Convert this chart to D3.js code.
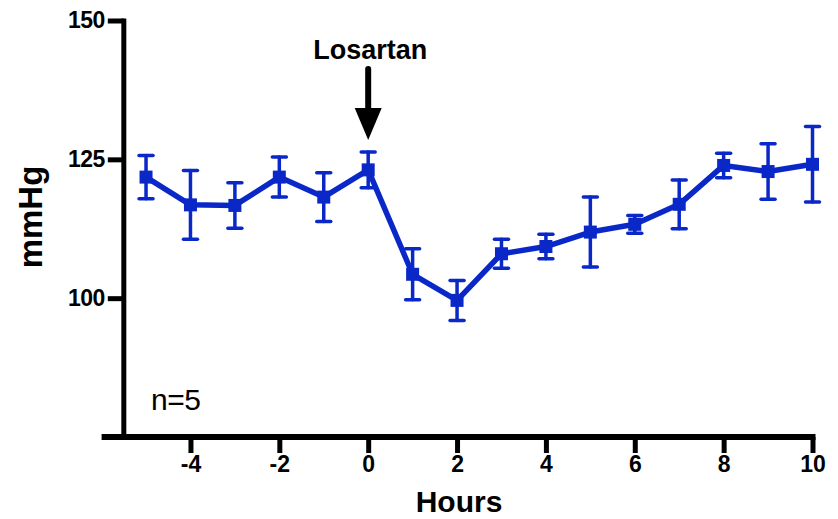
<!DOCTYPE html>
<html>
<head>
<meta charset="utf-8">
<script src="https://cdn.jsdelivr.net/npm/d3@7"></script>
<style>
  body { margin: 0; background: #fff; }
  svg { display: block; font-family: "Liberation Sans", Arial, sans-serif; }
  .tick text { font-family: "Liberation Sans Narrow", "Liberation Sans", Arial, sans-serif; }
</style>
</head>
<body>
<div id="chart"></div>
<script>
// hours relative to losartan dose
const hours = [-5, -4, -3, -2, -1, 0, 1, 2, 3, 4, 5, 6, 7, 8, 9, 10];
// mean pressure (mmHg) and SEM
const meanBP = [121.8, 116.8, 116.7, 121.8, 118.2, 123.1, 104.3, 99.6, 108.0, 109.3, 111.9, 113.3, 116.9, 123.9, 122.8, 124.1];
const sem = [3.9, 6.2, 4.1, 3.6, 4.4, 3.2, 4.6, 3.6, 2.6, 2.2, 6.3, 1.6, 4.4, 2.2, 5.0, 6.8];
const xTicks = [-4, -2, 0, 2, 4, 6, 8, 10];
const yTicks = [100, 125, 150];

const width = 838;
const height = 519;
const blue = "#0a28c8";

const data = hours.map((h, i) => ({ h, m: meanBP[i], e: sem[i] }));

const x = d3.scaleLinear().domain([-6, 10]).range([101.6, 812.5]);
const y = d3.scaleLinear().domain([75, 150]).range([437, 20.5]);

const svg = d3.select("#chart")
  .append("svg")
  .attr("width", width)
  .attr("height", height);

// x axis
const xAxis = svg.append("g")
  .attr("transform", `translate(0,${y(75)})`)
  .call(d3.axisBottom(x).tickValues(xTicks).tickFormat(d => String(d))
    .tickSize(16).tickSizeOuter(0).tickPadding(3));
xAxis.select(".domain").remove();
xAxis.append("line")
  .attr("x1", x(-6)).attr("x2", x(10) + 3)
  .attr("stroke", "#000").attr("stroke-width", 6);
xAxis.selectAll(".tick line").attr("stroke-width", 5);
xAxis.selectAll(".tick text")
  .attr("fill", "#000")
  .style("font-size", "23px")
  .style("font-weight", "bold");

// y axis
const yAxis = svg.append("g")
  .attr("transform", `translate(${x(-5.5)},0)`)
  .call(d3.axisLeft(y).tickValues(yTicks).tickFormat(d => String(d))
    .tickSize(16).tickSizeOuter(0).tickPadding(3));
yAxis.select(".domain").remove();
yAxis.append("line")
  .attr("y1", y(150) - 2).attr("y2", y(75))
  .attr("stroke", "#000").attr("stroke-width", 5);
yAxis.selectAll(".tick line").attr("stroke-width", 5);
yAxis.selectAll(".tick text")
  .attr("fill", "#000")
  .style("font-size", "23px")
  .style("font-weight", "bold")
  .style("letter-spacing", "-0.5px");

// error bars
const bars = svg.append("g")
  .attr("stroke", blue)
  .attr("stroke-width", 3.5)
  .attr("stroke-linecap", "round");
bars.selectAll(".stem")
  .data(data)
  .join("line")
  .attr("x1", d => x(d.h)).attr("x2", d => x(d.h))
  .attr("y1", d => y(d.m - d.e)).attr("y2", d => y(d.m + d.e));
bars.selectAll(".capTop")
  .data(data)
  .join("line")
  .attr("x1", d => x(d.h) - 7).attr("x2", d => x(d.h) + 7)
  .attr("y1", d => y(d.m + d.e)).attr("y2", d => y(d.m + d.e));
bars.selectAll(".capBot")
  .data(data)
  .join("line")
  .attr("x1", d => x(d.h) - 7).attr("x2", d => x(d.h) + 7)
  .attr("y1", d => y(d.m - d.e)).attr("y2", d => y(d.m - d.e));

// mean line
svg.append("path")
  .datum(data)
  .attr("fill", "none")
  .attr("stroke", blue)
  .attr("stroke-width", 5.5)
  .attr("stroke-linejoin", "round")
  .attr("d", d3.line().x(d => x(d.h)).y(d => y(d.m)));

// square markers
svg.append("g")
  .attr("fill", blue)
  .selectAll("rect")
  .data(data)
  .join("rect")
  .attr("x", d => x(d.h) - 6.5)
  .attr("y", d => y(d.m) - 6.5)
  .attr("width", 13)
  .attr("height", 13);

// losartan marker
svg.append("text")
  .attr("x", x(0) + 2)
  .attr("y", 59)
  .attr("text-anchor", "middle")
  .style("font-size", "27px")
  .style("font-weight", "bold")
  .text("Losartan");
svg.append("line")
  .attr("x1", x(0)).attr("x2", x(0))
  .attr("y1", 69).attr("y2", 112)
  .attr("stroke", "#000").attr("stroke-width", 6)
  .attr("stroke-linecap", "round");
svg.append("path")
  .attr("d", `M${x(0) - 13.5},108 L${x(0) + 13.5},108 L${x(0)},140 Z`)
  .attr("fill", "#000");

// n label
svg.append("text")
  .attr("x", 151)
  .attr("y", 410)
  .style("font-size", "30px")
  .style("letter-spacing", "-0.5px")
  .text("n=5");

// axis titles
svg.append("text")
  .attr("transform", `translate(42,217) rotate(-90)`)
  .attr("text-anchor", "middle")
  .style("font-size", "33px")
  .style("font-weight", "bold")
  .text("mmHg");
svg.append("text")
  .attr("x", 459)
  .attr("y", 512)
  .attr("text-anchor", "middle")
  .style("font-size", "30px")
  .style("font-weight", "bold")
  .text("Hours");
</script>
</body>
</html>
